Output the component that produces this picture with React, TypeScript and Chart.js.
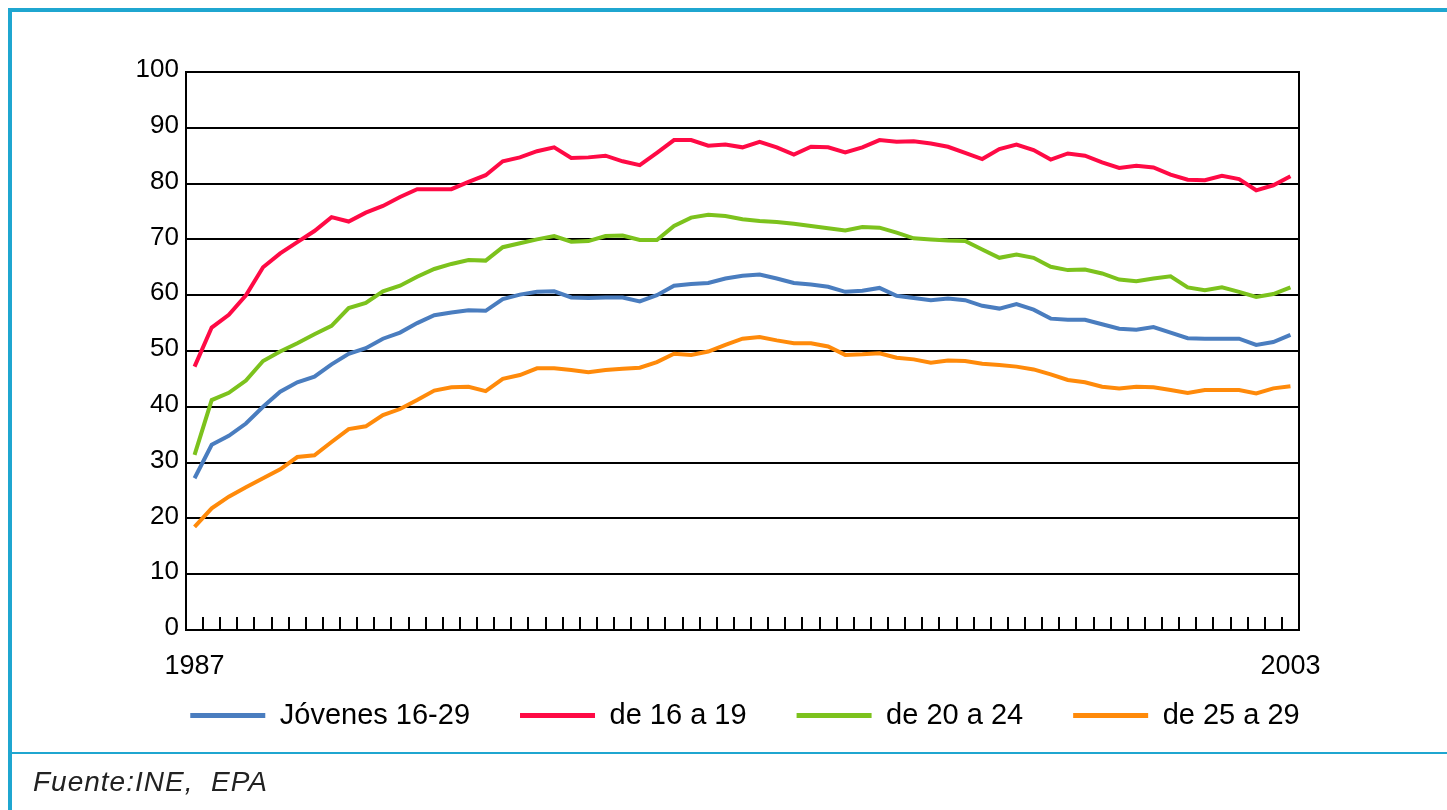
import React, { useEffect, useRef } from "react";
import { Chart, registerables } from "chart.js";

Chart.register(...registerables);

const categories = [
  "1987 II", "1987 III", "1987 IV",
  "1988 I", "1988 II", "1988 III", "1988 IV",
  "1989 I", "1989 II", "1989 III", "1989 IV",
  "1990 I", "1990 II", "1990 III", "1990 IV",
  "1991 I", "1991 II", "1991 III", "1991 IV",
  "1992 I", "1992 II", "1992 III", "1992 IV",
  "1993 I", "1993 II", "1993 III", "1993 IV",
  "1994 I", "1994 II", "1994 III", "1994 IV",
  "1995 I", "1995 II", "1995 III", "1995 IV",
  "1996 I", "1996 II", "1996 III", "1996 IV",
  "1997 I", "1997 II", "1997 III", "1997 IV",
  "1998 I", "1998 II", "1998 III", "1998 IV",
  "1999 I", "1999 II", "1999 III", "1999 IV",
  "2000 I", "2000 II", "2000 III", "2000 IV",
  "2001 I", "2001 II", "2001 III", "2001 IV",
  "2002 I", "2002 II", "2002 III", "2002 IV",
  "2003 I", "2003 II",
];

const xTickLabels = ["1987", "2003"];

const jovenes16a29 = [
  27.2, 33.2, 34.8, 37.0, 40.0, 42.7, 44.4, 45.4, 47.6, 49.5, 50.5, 52.2, 53.3,
  55.0, 56.4, 56.9, 57.3, 57.2, 59.3, 60.1, 60.6, 60.7, 59.6, 59.5, 59.6, 59.6,
  58.9, 60.0, 61.7, 62.0, 62.2, 63.0, 63.5, 63.7, 63.0, 62.2, 61.9, 61.5, 60.6,
  60.8, 61.3, 59.9, 59.5, 59.1, 59.4, 59.1, 58.1, 57.6, 58.4, 57.4, 55.8, 55.6,
  55.6, 54.8, 54.0, 53.8, 54.3, 53.3, 52.3, 52.2, 52.2, 52.2, 51.1, 51.6, 52.9,
];

const de16a19 = [
  47.2, 54.2, 56.5, 60.0, 65.0, 67.5, 69.5, 71.5, 74.0, 73.2, 74.8, 76.0, 77.6,
  79.0, 79.0, 79.0, 80.3, 81.5, 84.0, 84.7, 85.8, 86.5, 84.6, 84.7, 85.0, 84.0,
  83.3, 85.5, 87.8, 87.8, 86.8, 87.0, 86.5, 87.5, 86.5, 85.2, 86.6, 86.5, 85.6,
  86.5, 87.8, 87.5, 87.6, 87.2, 86.6, 85.5, 84.4, 86.2, 87.0, 86.0, 84.3, 85.4,
  85.0, 83.8, 82.8, 83.2, 82.9, 81.6, 80.7, 80.6, 81.4, 80.8, 78.8, 79.7, 81.3,
];

const de20a24 = [
  31.4, 41.2, 42.5, 44.7, 48.2, 49.9, 51.4, 53.0, 54.5, 57.7, 58.6, 60.7, 61.7,
  63.3, 64.7, 65.6, 66.3, 66.2, 68.6, 69.3, 70.0, 70.6, 69.6, 69.7, 70.6, 70.7,
  69.9, 69.9, 72.4, 73.9, 74.4, 74.2, 73.6, 73.3, 73.1, 72.8, 72.4, 72.0, 71.6,
  72.2, 72.1, 71.2, 70.2, 70.0, 69.8, 69.7, 68.2, 66.7, 67.3, 66.7, 65.1, 64.5,
  64.6, 63.9, 62.8, 62.5, 63.0, 63.4, 61.4, 60.9, 61.4, 60.6, 59.7, 60.2, 61.4,
];

const de25a29 = [
  18.5, 21.8, 23.9, 25.6, 27.2, 28.8, 31.0, 31.3, 33.7, 36.0, 36.5, 38.5, 39.6,
  41.2, 42.9, 43.5, 43.6, 42.8, 45.0, 45.7, 46.9, 46.9, 46.6, 46.2, 46.6, 46.8,
  47.0, 48.0, 49.5, 49.3, 49.9, 51.1, 52.2, 52.5, 51.9, 51.4, 51.4, 50.8, 49.3,
  49.4, 49.6, 48.8, 48.5, 47.9, 48.3, 48.2, 47.7, 47.5, 47.2, 46.7, 45.8, 44.8,
  44.4, 43.6, 43.3, 43.6, 43.5, 43.0, 42.5, 43.0, 43.0, 43.0, 42.4, 43.3, 43.7,
];

const seriesNames = ["Jóvenes 16-29", "de 16 a 19", "de 20 a 24", "de 25 a 29"];
const seriesColors = ["#4a7dbf", "#ff0a45", "#7cc21d", "#ff8a0a"];

const LEGEND_SHIFT = 39;

const plotDecor = {
  id: "plotDecor",
  afterLayout(chart: any) {
    const lg = chart.legend;
    if (lg) {
      lg.top -= LEGEND_SHIFT;
      lg.bottom -= LEGEND_SHIFT;
    }
  },
  beforeDatasetsDraw(chart: any) {
    const { ctx, chartArea } = chart;
    const x = chart.scales.x;
    ctx.save();
    ctx.strokeStyle = "#000";
    ctx.lineWidth = 2;
    ctx.beginPath();
    for (let i = 0; i < categories.length - 1; i++) {
      const px = Math.round((x.getPixelForValue(i) + x.getPixelForValue(i + 1)) / 2);
      ctx.moveTo(px, chartArea.bottom);
      ctx.lineTo(px, chartArea.bottom - 13);
    }
    ctx.moveTo(chartArea.right, chartArea.top - 1);
    ctx.lineTo(chartArea.right, chartArea.bottom + 1);
    ctx.stroke();
    ctx.restore();
  },
};

export default function App() {
  const canvasRef = useRef<HTMLCanvasElement | null>(null);

  useEffect(() => {
    const canvas = canvasRef.current;
    if (!canvas) return;
    const datasets = [jovenes16a29, de16a19, de20a24, de25a29].map((data, k) => ({
      label: seriesNames[k],
      data,
      borderColor: seriesColors[k],
      backgroundColor: seriesColors[k],
      borderWidth: 4,
      pointRadius: 0,
      tension: 0,
      fill: false,
    }));
    const chart = new Chart(canvas, {
      type: "line",
      data: { labels: categories, datasets },
      plugins: [plotDecor],
      options: {
        animation: false,
        responsive: false,
        maintainAspectRatio: false,
        layout: { padding: { top: 72, left: 0, right: 0, bottom: 0 } },
        plugins: {
          tooltip: { enabled: false },
          legend: {
            position: "bottom",
            align: "center",
            labels: {
              boxWidth: 75,
              boxHeight: 5,
              padding: 50,
              color: "#000",
              font: { family: "Liberation Sans, Arial, sans-serif", size: 29 },
              generateLabels: (c: any) =>
                Chart.defaults.plugins.legend.labels
                  .generateLabels(c)
                  .map((l: any) => ({ ...l, lineWidth: 0 })),
            },
          },
        },
        scales: {
          x: {
            type: "category",
            offset: true,
            grid: { display: false, drawTicks: false },
            border: { display: true, color: "#000", width: 2 },
            ticks: {
              autoSkip: false,
              maxRotation: 0,
              minRotation: 0,
              padding: 20,
              color: "#000",
              font: { family: "Liberation Sans, Arial, sans-serif", size: 27 },
              callback: (_v: any, i: number) =>
                i === 0 ? xTickLabels[0] : i === categories.length - 1 ? xTickLabels[1] : null,
            },
            afterFit: (s: any) => {
              s.height = 60;
            },
          },
          y: {
            type: "linear",
            position: "left",
            min: 0,
            max: 100,
            z: 1,
            grid: { color: "#000", lineWidth: 2, drawTicks: false },
            border: { display: true, color: "#000", width: 2 },
            ticks: {
              stepSize: 10,
              padding: 7,
              labelOffset: -2,
              color: "#000",
              font: { family: "Liberation Sans, Arial, sans-serif", size: 26 },
            },
            afterFit: (s: any) => {
              s.width = 143;
            },
          },
          yRight: {
            type: "linear",
            position: "right",
            display: true,
            grid: { display: false, drawTicks: false },
            border: { display: false },
            ticks: { display: false },
            afterFit: (s: any) => {
              s.width = 148;
            },
          },
        },
      },
    });
    return () => chart.destroy();
  }, []);

  return (
    <div
      style={{
        position: "absolute",
        left: 0,
        top: 0,
        width: 1447,
        height: 810,
        overflow: "hidden",
        background: "#fff",
      }}
    >
      <div
        style={{
          position: "absolute",
          left: 8,
          top: 8,
          width: 1600,
          height: 1000,
          border: "4px solid #1fa6d0",
          boxSizing: "border-box",
        }}
      />
      <div
        style={{
          position: "absolute",
          left: 12,
          top: 752,
          width: 1500,
          height: 2,
          background: "#1fa6d0",
        }}
      />
      <canvas
        ref={canvasRef}
        width={1404}
        height={779}
        style={{ position: "absolute", left: 43, top: 0, width: 1404, height: 779 }}
      />
      <div
        style={{
          position: "absolute",
          left: 33,
          top: 767,
          lineHeight: "30px",
          fontFamily: "Liberation Sans, Arial, sans-serif",
          fontStyle: "italic",
          fontSize: 28,
          letterSpacing: 1,
          color: "#222",
          whiteSpace: "nowrap",
          background: "#fff",
        }}
      >
        Fuente:INE,&nbsp; EPA
      </div>
    </div>
  );
}
